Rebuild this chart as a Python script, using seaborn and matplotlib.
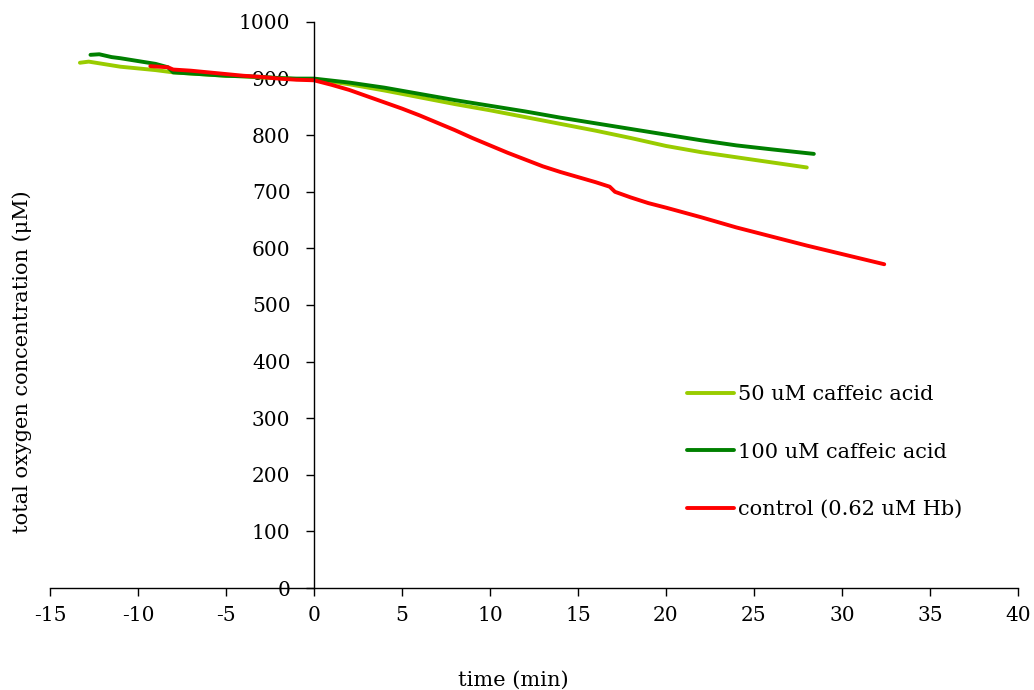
import numpy as np
import pandas as pd
import matplotlib
matplotlib.use("Agg")
import matplotlib.pyplot as plt
import seaborn as sns

# ---- data ----
t_50 = [-13.3, -12.8, -12, -11, -10, -9, -8, -7, -6, -5, -4, -3, -2, -1, 0,
        2, 4, 6, 8, 10, 12, 14, 16, 18, 20, 22, 24, 26, 28]
o2_50 = [928, 930, 926, 921, 918, 915, 911, 909, 907, 905, 904, 902, 901, 899, 899,
         890, 879, 867, 855, 844, 832, 820, 808, 795, 781, 770, 761, 752, 743]

t_100 = [-12.7, -12.2, -11.5, -11, -10, -9, -8.3, -8.0, -7, -6, -5, -4, -3, -2, -1, 0,
         2, 4, 6, 8, 10, 12, 14, 16, 18, 20, 22, 24, 26, 28.4]
o2_100 = [942, 943, 938, 936, 931, 926, 920, 911, 909, 907, 905, 904, 903, 901, 900, 900,
          893, 884, 873, 862, 852, 842, 831, 821, 811, 801, 791, 782, 775, 767]

t_ctrl = [-9.3, -8.3, -8.0, -7, -6, -5, -4, -3, -2, -1, 0, 1, 2, 3, 4, 5, 6, 7, 8, 9,
          10, 11, 12, 13, 14, 15, 16, 16.8, 17.1, 18, 19, 20, 22, 24, 26, 28, 30, 32.4]
o2_ctrl = [922, 920, 916, 914, 911, 908, 905, 903, 900, 898, 897, 889, 880, 869, 858,
           847, 835, 822, 809, 795, 782, 769, 757, 745, 735, 726, 717, 709, 700, 690,
           680, 672, 655, 637, 621, 605, 590, 572]

series_names = ["50 uM caffeic acid", "100 uM caffeic acid", "control (0.62 uM Hb)"]
colors = ["#99CC00", "#008000", "#FF0000"]

x_ticks = list(range(-15, 45, 5))
y_ticks = list(range(0, 1100, 100))

df = pd.concat([
    pd.DataFrame({"time": t_50, "o2": o2_50, "series": series_names[0]}),
    pd.DataFrame({"time": t_100, "o2": o2_100, "series": series_names[1]}),
    pd.DataFrame({"time": t_ctrl, "o2": o2_ctrl, "series": series_names[2]}),
], ignore_index=True)

sns.set_theme(style="white")
plt.rcParams["font.family"] = ["DejaVu Serif"]
plt.rcParams["text.color"] = "black"
plt.rcParams["xtick.color"] = "black"
plt.rcParams["ytick.color"] = "black"
TFS = 14.5
FS = 15

fig = plt.figure(figsize=(10.34, 6.9), dpi=100)
ax = fig.add_axes([50 / 1034, 1 - 588 / 690, (1018 - 50) / 1034, (588 - 22) / 690])

sns.lineplot(data=df, x="time", y="o2", hue="series", hue_order=series_names,
             palette=colors, sort=False, estimator=None, linewidth=2.8, ax=ax)

ax.set_xlim(-15, 40)
ax.set_ylim(0, 1000)
ax.set_xticks(x_ticks)
ax.set_yticks(y_ticks)
ax.set_xticklabels([str(v) for v in x_ticks])
ax.set_yticklabels([str(v) for v in y_ticks])

ax.spines["left"].set_position(("data", 0))
ax.spines["bottom"].set_position(("data", 0))
ax.spines["top"].set_visible(False)
ax.spines["right"].set_visible(False)
for s in ["left", "bottom"]:
    ax.spines[s].set_color("black")
    ax.spines[s].set_linewidth(1.0)

ax.tick_params(axis="x", direction="out", length=6, width=1, colors="black",
               labelsize=TFS, pad=7, bottom=True)
ax.tick_params(axis="y", direction="out", length=6, width=1, colors="black",
               labelsize=TFS, pad=11, left=True)
ax.grid(False)

ax.set_xlabel("")
ax.set_ylabel("")
fig.text(513 / 1034, 1 - 680 / 690, "time (min)", ha="center", va="center",
         fontsize=FS, color="black")
fig.text(22 / 1034, 1 - 362 / 690, "total oxygen concentration (\u03bcM)",
         rotation=90, ha="center", va="center", fontsize=FS, color="black")

leg = ax.legend(loc="upper left", bbox_to_anchor=(687 / 1034, 1 - 385 / 690),
                bbox_transform=fig.transFigure, frameon=False, fontsize=FS,
                handlelength=2.25, handletextpad=0.2, labelspacing=1.85,
                borderpad=0, borderaxespad=0)
for line in leg.get_lines():
    line.set_linewidth(2.8)
for txt in leg.get_texts():
    txt.set_color("black")

fig.savefig("out.png", dpi=100)
